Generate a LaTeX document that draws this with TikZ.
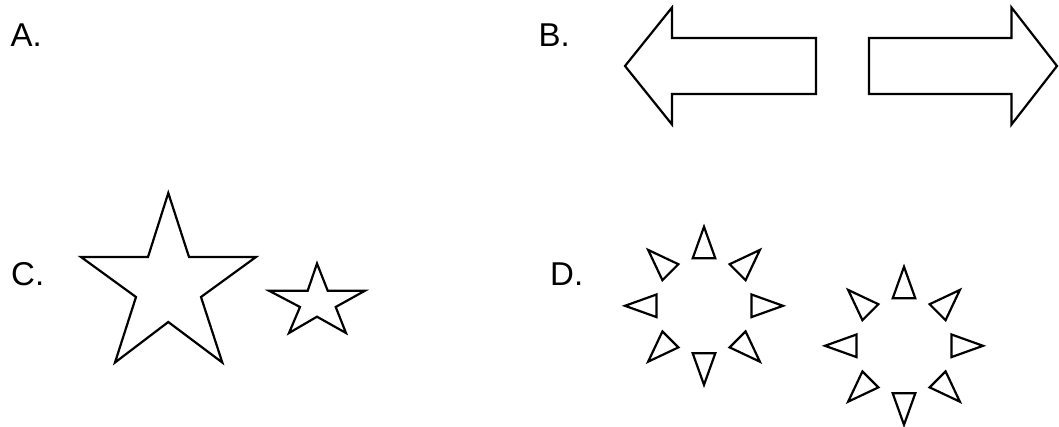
\documentclass[tikz,border=0pt]{standalone}
\usepackage{fontspec}
\setmainfont{Liberation Sans}
\usetikzlibrary{calc}
\begin{document}
\begin{tikzpicture}[x=1pt,y=-1pt,
  lab/.style={anchor=base west, inner sep=0pt, font=\fontsize{33}{38}\selectfont},
  outline/.style={draw=black, line width=2.2pt, line join=miter, fill=white}]
\useasboundingbox (0,0) rectangle (1059,427);
% labels
\node[lab] (A) at (10.5,47) {A.};
\node[lab] (B) at (538.5,47) {B.};
\node[lab] (C) at (11,286) {C.};
\node[lab] (D) at (550,286) {D.};
% B: arrows
\draw[outline] (625,66) -- (672,7.5) -- (672,38) -- (816,38) -- (816,94) -- (672,94) -- (672,124.5) -- cycle;
\draw[outline] (1057,66) -- (1011.5,7.5) -- (1011.5,38) -- (869,38) -- (869,94) -- (1011.5,94) -- (1011.5,124.5) -- cycle;
% C: stars
\draw[outline] (168.3,193) -- (189,257) -- (256,257) -- (201,297) -- (222.3,362.5) -- (168.3,322) -- (115,362.5) -- (136,297) -- (81,257) -- (148,257) -- cycle;
\draw[outline] (317,263.5) -- (327.7,290.7) -- (365,290.7) -- (335.7,307) -- (346,333) -- (317,316.7) -- (289,333) -- (300,307) -- (269,290.7) -- (307.7,290.7) -- cycle;
% D: rings of triangles
\coordinate (c1) at (704,305.8);
\coordinate (c2) at (904,345.8);
\foreach \c in {c1,c2}{
  \foreach \a in {0,45,...,315}{
    \draw[outline] ($(\c)+(\a:79)$) -- ($(\c)+(\a:47.5)+(\a+90:11.3)$) -- ($(\c)+(\a:47.5)+(\a-90:11.3)$) -- cycle;
  }
}
\end{tikzpicture}
\end{document}
